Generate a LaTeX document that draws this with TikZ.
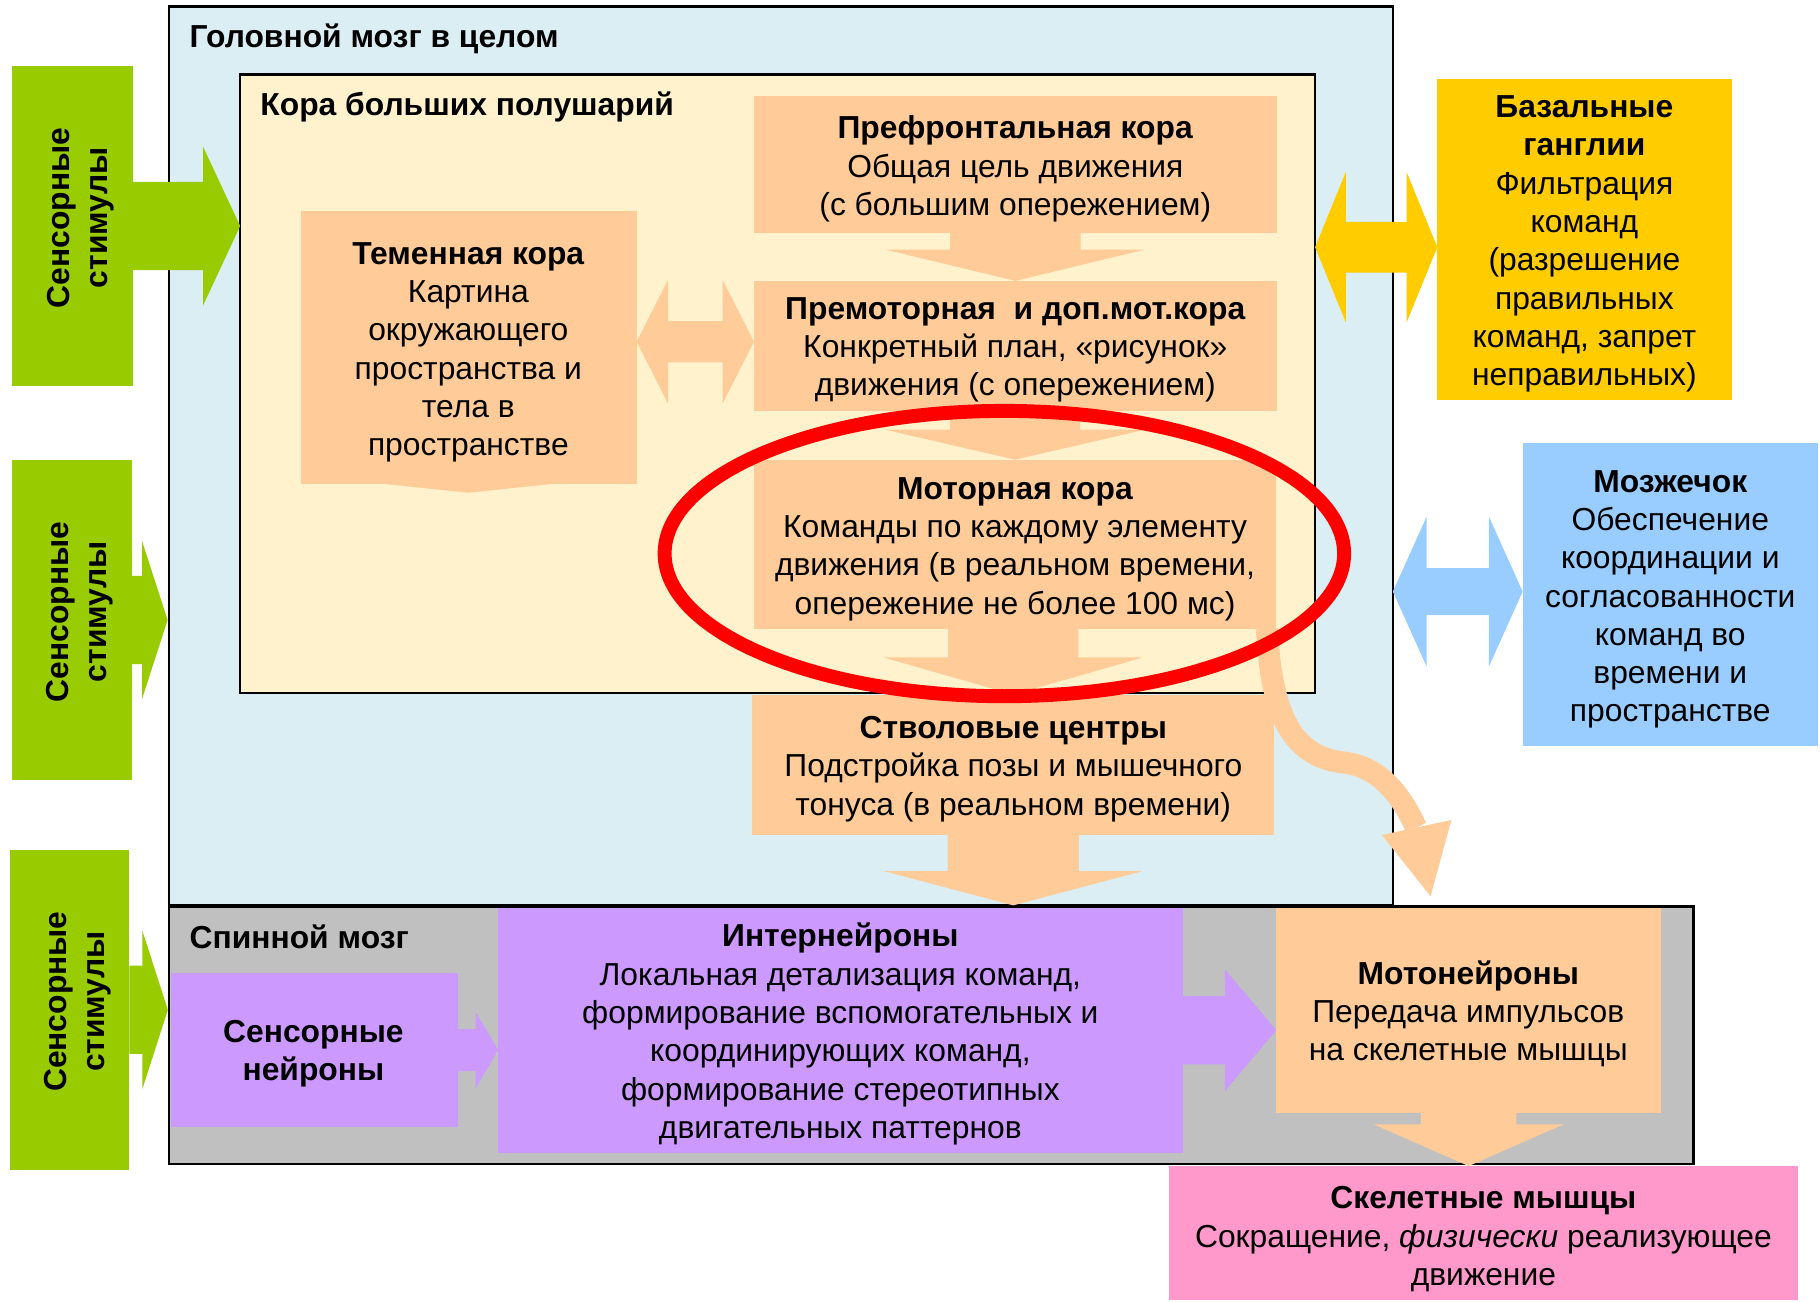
\documentclass[tikz,border=0pt]{standalone}
\usepackage{fontspec}
\setmainfont{Liberation Sans}
\usetikzlibrary{fit,calc,shapes.geometric}
\definecolor{grn}{HTML}{99CC00}
\definecolor{skyb}{HTML}{DAEEF3}
\definecolor{crem}{HTML}{FFF2CC}
\definecolor{orng}{HTML}{FFCC99}
\definecolor{gold}{HTML}{FFCC00}
\definecolor{lblue}{HTML}{99CCFF}
\definecolor{lilac}{HTML}{CC99FF}
\definecolor{pnk}{HTML}{FF99CC}
\definecolor{gry}{HTML}{C0C0C0}
\newcommand\DownBlock[6]{%
  \fill[#1] let \p1=#2, \p2=#3 in
    ({\x2-#4},\y1) -- ({\x2+#4},\y1) -- ({\x2+#4},{\y2+#6}) -- ({\x2+#5},{\y2+#6})
    -- (\x2,\y2) -- ({\x2-#5},{\y2+#6}) -- ({\x2-#4},{\y2+#6}) -- cycle;}
\newcommand\RightBlock[6]{%
  \fill[#1] let \p1=#2, \p2=#3 in
    (\x1,{\y2+#4}) -- ({\x2-#6},{\y2+#4}) -- ({\x2-#6},{\y2+#5}) -- (\x2,\y2)
    -- ({\x2-#6},{\y2-#5}) -- ({\x2-#6},{\y2-#4}) -- (\x1,{\y2-#4}) -- cycle;}
\newcommand\DoubleBlock[6]{%
  \fill[#1] let \p1=#2, \p2=#3 in
    (\x1,\y1) -- ({\x1+#6},{\y1+#5}) -- ({\x1+#6},{\y1+#4}) -- ({\x2-#6},{\y1+#4})
    -- ({\x2-#6},{\y1+#5}) -- (\x2,\y1) -- ({\x2-#6},{\y1-#5}) -- ({\x2-#6},{\y1-#4})
    -- ({\x1+#6},{\y1-#4}) -- ({\x1+#6},{\y1-#5}) -- cycle;}
\tikzset{
  box/.style={inner sep=0pt, outer sep=0pt, fill=#1, draw=none},
  frame/.style={inner sep=0pt, outer sep=0pt, fill=#1, draw=black, line width=1pt},
  txt/.style={align=center, font=\fontsize{13.7}{16.5}\selectfont, inner sep=0pt, yshift=-1.25pt},
  ttl/.style={anchor=west, font=\fontsize{13.7}{16.5}\selectfont\bfseries, inner sep=0pt},
  stim/.style={align=center, rotate=90, font=\fontsize{13.7}{16.5}\selectfont\bfseries, inner sep=0pt}
}
\begin{document}
\begin{tikzpicture}[x=0.5pt,y=-0.5pt]
\useasboundingbox (0,0) rectangle (1568,1121);
% big frames
\node[frame=skyb, fit={(145.4,5.7) (1200,780)}] (brain) {};
\node[frame=crem, fit={(206.9,64.3) (1133,596.8)}] (cortex) {};
\node[frame=gry, fit={(145.6,781) (1459,1002.9)}] (spine) {};
% cortex boxes
\node[box=orng, fit={(649.6,82.4) (1099.8,200.8)}] (pref) {};
\node[box=orng, fit={(649.6,242) (1099.8,353.8)}] (prem) {};
\node[box=orng, fit={(649.4,396) (1099.5,541.7)}] (motor) {};
\node[box=orng, fit={(647.9,598.4) (1098,719.4)}] (stem) {};
\node[box=orng, fit={(259.2,181.5) (548.5,417.3)}] (par) {};
\fill[orng] (331.8,417) -- (403.5,424.5) -- (474.8,417) -- cycle;
% right boxes
\node[box=gold, fit={(1238.3,68.1) (1492.2,344.2)}] (basal) {};
\node[box=lblue, fit={(1311.8,381.6) (1566,642.7)}] (cereb) {};
% spinal boxes
\node[box=lilac, fit={(147.3,838.6) (394.5,970.7)}] (sens) {};
\node[box=lilac, fit={(429.1,782) (1019.2,993.1)}] (inter) {};
\node[box=orng, fit={(1099.5,782) (1431,958.6)}] (moto) {};
\node[box=pnk, fit={(1007.2,1004.6) (1548.7,1120)}] (muscle) {};
% stimuli
\node[box=grn, fit={(10.4,56.9) (114.6,332.6)}] (stim1) {};
\node[box=grn, fit={(10.5,396.3) (113.4,672)}] (stim2) {};
\node[box=grn, fit={(8.8,732) (111.5,1008)}] (stim3) {};
\RightBlock{grn}{(stim1.east)}{(cortex.west |- stim1.east)}{19pt}{34.25pt}{16pt}
\RightBlock{grn}{(stim2.east)}{($(brain.west |- stim2.east)+(-1,0)$)}{19pt}{34pt}{11pt}
\RightBlock{grn}{(stim3.east)}{($(spine.west |- stim3.east)+(-1,0)$)}{19pt}{34.25pt}{11pt}
% block arrows
\DownBlock{orng}{(pref.south)}{(prem.north)}{28.1pt}{55.9pt}{13.5pt}
\DownBlock{orng}{(prem.south)}{(motor.north)}{28.1pt}{55.9pt}{12.9pt}
\DownBlock{orng}{(motor.south)}{(stem.north)}{28.1pt}{55.9pt}{16pt}
\DownBlock{orng}{(stem.south)}{($(stem.south |- spine.north)+(0,-1)$)}{28.3pt}{55.9pt}{14.8pt}
\DownBlock{orng}{(moto.south)}{(moto.south |- muscle.north)}{20.6pt}{40.9pt}{18pt}
\RightBlock{lilac}{(sens.east)}{(inter.west |- sens.east)}{9.05pt}{16.45pt}{9.65pt}
\RightBlock{lilac}{(inter.east)}{(moto.west |- inter.east)}{14.7pt}{26.2pt}{22.1pt}
\coordinate (parL) at ($(par.east)+(0,-5)$);
\DoubleBlock{orng}{(parL)}{(prem.west)}{8.9pt}{26.6pt}{13.5pt}
\coordinate (basL) at ($(cortex.east |- basal.west)+(0,6.8)$);
\DoubleBlock{gold}{(basL)}{(basal.west)}{10.95pt}{32.3pt}{13.2pt}
\coordinate (cerL) at ($(brain.east |- cereb.west)+(0,-2.5)$);
\DoubleBlock{lblue}{(cerL)}{(cereb.west)}{10.1pt}{32.2pt}{14.5pt}
% curved arrow motor -> motoneurons
\coordinate (cstart) at ($(motor.south east)+(-8,0)$);
\coordinate (cbase) at (1220,713);
\coordinate (ctip) at (1232.5,772.2);
\draw[orng, line width=9.5pt] (cstart) .. controls (1095,610) and (1110,652) .. (1158,657)
   .. controls (1185,660) and (1205,680) .. (cbase);
\fill[orng] (1190.6,719.4) -- (1250.4,706.4) -- (ctip) -- cycle;
% texts
\node[ttl] (brainT) at (163,33.5) {Головной мозг в целом};
\node[ttl] (cortexT) at (224,92.5) {Кора больших полушарий};
\node[ttl] (spineT) at (163,807) {Спинной мозг};
\node[txt] (prefT) at (874.7,143) {\textbf{Префронтальная кора}\\Общая цель движения\\(с большим опережением)};
\node[txt] (premT) at (874.7,299) {\textbf{Премоторная\ \ и доп.мот.кора}\\Конкретный план, «рисунок»\\движения (с опережением)};
\node[txt] (motorT) at (874.5,470.5) {\textbf{Моторная кора}\\Команды по каждому элементу\\движения (в реальном времени,\\опережение не более 100 мс)};
\node[txt] (stemT) at (873,660) {\textbf{Стволовые центры}\\Подстройка позы и мышечного\\тонуса (в реальном времени)};
\node[txt] (parT) at (403.5,301) {\textbf{Теменная кора}\\Картина\\окружающего\\пространства и\\тела в\\пространстве};
\node[txt] (basalT) at (1365,207.7) {\textbf{Базальные}\\\textbf{ганглии}\\Фильтрация\\команд\\(разрешение\\правильных\\команд, запрет\\неправильных)};
\node[txt] (cerebT) at (1439,513.9) {\textbf{Мозжечок}\\Обеспечение\\координации и\\согласованности\\команд во\\времени и\\пространстве};
\node[txt] (sensT) at (270,905.5) {\textbf{Сенсорные}\\\textbf{нейроны}};
\node[txt] (interT) at (724,888.5) {\textbf{Интернейроны}\\Локальная детализация команд,\\формирование вспомогательных и\\координирующих команд,\\формирование стереотипных\\двигательных паттернов};
\node[txt] (motoT) at (1265,871) {\textbf{Мотонейроны}\\Передача импульсов\\на скелетные мышцы};
\node[txt] (muscleT) at (1278,1065) {\textbf{Скелетные мышцы}\\Сокращение, \textit{физически} реализующее\\движение};
\node[stim] (stim1T) at ($(stim1.center)+(7,-7)$) {Сенсорные\\стимулы};
\node[stim] (stim2T) at ($(stim2.center)+(7,-7)$) {Сенсорные\\стимулы};
\node[stim] (stim3T) at ($(stim3.center)+(7,-7)$) {Сенсорные\\стимулы};
% highlight ellipse
\node[draw=red, line width=6pt, ellipse, inner sep=0pt, minimum width=292.7pt, minimum height=122.9pt] (hl) at (865.3,476.9) {};
\end{tikzpicture}
\end{document}
